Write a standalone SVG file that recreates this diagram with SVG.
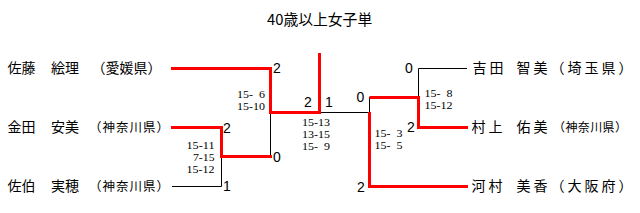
<svg xmlns="http://www.w3.org/2000/svg" width="640" height="213" viewBox="0 0 640 213">
<style>
.nm{font-family:"Noto Sans CJK JP","Noto Sans CJK SC",sans-serif;font-size:14px;fill:#000}
.sm{font-size:12.5px}
.rt{letter-spacing:3px}
.num{font-family:"Liberation Sans",Arial,sans-serif;font-size:14px;fill:#000}
.sc{font-family:"Liberation Serif","Times New Roman",serif;font-size:10.5px;fill:#000;text-anchor:end}
.scl{font-family:"Liberation Serif","Times New Roman",serif;font-size:10.5px;fill:#000}
.r{fill:none;stroke:#FF0000;stroke-width:3}
.b{fill:none;stroke:#000;stroke-width:1}
</style>
<rect width="640" height="213" fill="#fff"/>
<text x="267" y="24.5" class="nm" style="font-size:14.8px">40歳以上女子単</text>
<g id="connectors">
<path class="b" d="M319,112.5 H369.5 V97"/>
<path class="b" d="M270.5,112 V156"/>
<path class="b" d="M172,186.5 H221.5 V156"/>
<path class="b" d="M467,68.5 H418.5 V97"/>
<path class="r" d="M171,68.5 H270.5 V112.5 H319.5 V53"/>
<path class="r" d="M171,127.5 H221.5 V156.5 H272"/>
<path class="r" d="M369.5,97.5 H418.5 V127.5 H468"/>
<path class="r" d="M369.5,112 V186.5 H468"/>
</g>
<g id="player-sato">
<text class="nm" x="7.5" y="73">佐藤　<tspan x="51">絵理　</tspan><tspan x="91.5">（愛媛県）</tspan></text>
</g>
<g id="player-kaneda">
<text class="nm" x="7.5" y="132">金田　<tspan x="51">安美</tspan><tspan x="89" class="sm" style="letter-spacing:1px">（神奈川県）</tspan></text>
</g>
<g id="player-saeki">
<text class="nm" x="7.5" y="191">佐伯　<tspan x="51">実穂</tspan><tspan x="89" class="sm" style="letter-spacing:1px">（神奈川県）</tspan></text>
</g>
<g id="player-yoshida">
<text class="nm rt" x="472.5" y="72.5">吉田 <tspan x="516.5">智美</tspan>（埼玉県）</text>
</g>
<g id="player-murakami">
<text class="nm rt" x="471.5" y="132">村上 <tspan x="516.5">佑美</tspan><tspan style="font-size:12px;letter-spacing:0.4px" x="553">（神奈川県）</tspan></text>
</g>
<g id="player-kawamura">
<text class="nm rt" x="471.5" y="190.5">河村 <tspan x="516.5">美香</tspan>（大阪府）</text>
</g>
<g id="scores">
<text class="num" x="273" y="73.3">2</text>
<text class="num" x="304" y="106.7">2</text>
<text class="num" x="325" y="106.7">1</text>
<text class="num" x="356.5" y="102">0</text>
<text class="num" x="405" y="73">0</text>
<text class="num" x="407" y="131.7">2</text>
<text class="num" x="357" y="191.7">2</text>
<text class="num" x="223" y="132.5">2</text>
<text class="num" x="273" y="161.7">0</text>
<text class="num" x="223" y="190.7">1</text>
<text class="sc" x="265" y="98"><tspan textLength="28" lengthAdjust="spacingAndGlyphs">15-&#8199;6</tspan><tspan x="265" dy="12" textLength="28" lengthAdjust="spacingAndGlyphs">15-10</tspan></text>
<text class="sc" x="214.5" y="148.5"><tspan textLength="28" lengthAdjust="spacingAndGlyphs">15-11</tspan><tspan x="214.5" dy="12" textLength="21.5" lengthAdjust="spacingAndGlyphs">7-15</tspan><tspan x="214.5" dy="12" textLength="28" lengthAdjust="spacingAndGlyphs">15-12</tspan></text>
<text class="scl" x="302" y="126"><tspan textLength="28" lengthAdjust="spacingAndGlyphs">15-13</tspan><tspan x="302" dy="12" textLength="28" lengthAdjust="spacingAndGlyphs">13-15</tspan><tspan x="302" dy="12" textLength="28" lengthAdjust="spacingAndGlyphs">15-&#8199;9</tspan></text>
<text class="scl" x="424.5" y="96.5"><tspan textLength="28" lengthAdjust="spacingAndGlyphs">15-&#8199;8</tspan><tspan x="424.5" dy="12" textLength="28" lengthAdjust="spacingAndGlyphs">15-12</tspan></text>
<text class="scl" x="374.5" y="136.5"><tspan textLength="28" lengthAdjust="spacingAndGlyphs">15-&#8199;3</tspan><tspan x="374.5" dy="12" textLength="28" lengthAdjust="spacingAndGlyphs">15-&#8199;5</tspan></text>
</g>
</svg>
